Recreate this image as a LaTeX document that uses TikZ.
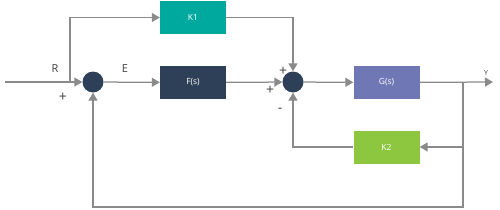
\documentclass[tikz,border=0pt]{standalone}
\usepackage{fontspec}
\setmainfont{Open Sans}
\usetikzlibrary{arrows.meta}
\definecolor{lgray}{HTML}{8A8A8A}
\definecolor{cteal}{HTML}{00A99D}
\definecolor{cnavy}{HTML}{2E4057}
\definecolor{cpurple}{HTML}{6F78B4}
\definecolor{cgreen}{HTML}{8DC63F}
\tikzset{
  blk/.style={rectangle, minimum width=66pt, minimum height=33pt, inner sep=0pt, text=white, font=\fontsize{8.5}{9}\selectfont},
  sumnode/.style={circle, fill=cnavy, minimum size=21pt, inner sep=0pt},
  conn/.style={draw=lgray, line width=1.25pt},
  arr/.style={conn, -{Triangle[length=8pt,width=9pt]}},
  lbl/.style={text=black!75, font=\fontsize{11}{12}\selectfont, inner sep=0pt},
  pm/.style={text=black!75, font=\fontsize{14}{14}\selectfont, inner sep=0pt},
}
\begin{document}
\begin{tikzpicture}[x=1pt,y=-1pt]
\useasboundingbox (0,0) rectangle (500,209);
\node[sumnode] (s1) at (93,82) {};
\node[sumnode] (s2) at (293,82) {};
\node[blk, fill=cteal] (k1) at (193,17.5) {K1};
\node[blk, fill=cnavy] (f) at (193,82.5) {F(s)};
\node[blk, fill=cpurple] (g) at (386.5,82.5) {G(s)};
\node[blk, fill=cgreen] (k2) at (386.5,147) {K2};
\coordinate (in) at (5,82);
\coordinate (br) at (70,82);
\coordinate (out) at (493,82);
\coordinate (ob) at (463,82);
\draw[arr] (in) -- (s1);
\draw[arr] (br) |- (k1.west);
\draw[arr] (s1) -- (f);
\draw[arr] (k1.east) -| (s2.north);
\draw[arr] (f) -- (s2);
\draw[arr] (s2) -- (g);
\draw[arr] (g) -- (out);
\draw[arr] (ob) |- (k2.east);
\draw[arr] (k2.west) -| (s2.south);
\draw[arr] (ob) |- (93,207) -- (s1.south);
\node[lbl] (lr) at (55,69) {R};
\node[pm] (lp1) at (63,97) {+};
\node[lbl] (le) at (125,69) {E};
\node[pm] (lp2) at (283,71) {+};
\node[pm] (lp3) at (270,90) {+};
\node[pm] (lm) at (280,110) {-};
\node[lbl, font=\fontsize{7}{8}\selectfont] (ly) at (486,73) {Y};
\end{tikzpicture}
\end{document}
